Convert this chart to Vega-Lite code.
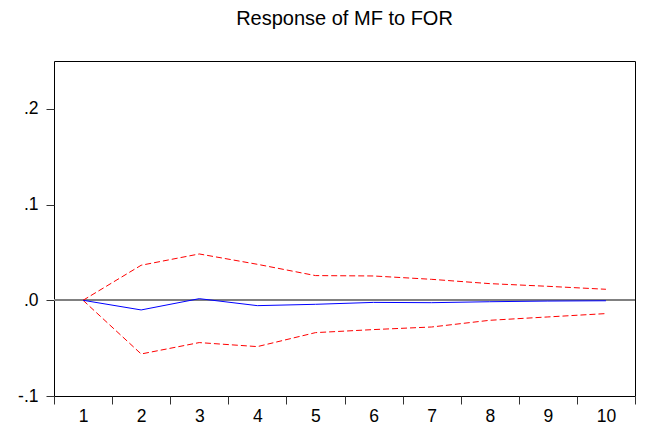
{
  "$schema": "https://vega.github.io/schema/vega-lite/v6.json",
  "width": 581,
  "height": 335,
  "autosize": {"type": "none"},
  "padding": {"left": 54, "top": 61, "right": 15, "bottom": 33},
  "background": "white",
  "title": {
    "text": "Response of MF to FOR",
    "font": "Liberation Sans",
    "fontSize": 20,
    "fontWeight": "normal",
    "color": "black",
    "anchor": "middle",
    "baseline": "alphabetic",
    "offset": 16
  },
  "config": {
    "view": {"stroke": "black", "strokeWidth": 1},
    "axis": {
      "labelFont": "Liberation Sans",
      "labelFontSize": 17.5,
      "labelColor": "black",
      "domainColor": "black",
      "tickColor": "#333333",
      "tickSize": 8,
      "grid": false,
      "title": null
    }
  },
  "data": {
    "values": [
      {"period": 1, "resp": 0.0, "lo": 0.0, "hi": 0.0},
      {"period": 2, "resp": -0.0101, "lo": -0.0561, "hi": 0.0366},
      {"period": 3, "resp": 0.0017, "lo": -0.0442, "hi": 0.0484},
      {"period": 4, "resp": -0.0056, "lo": -0.0484, "hi": 0.0376},
      {"period": 5, "resp": -0.0042, "lo": -0.0338, "hi": 0.0258},
      {"period": 6, "resp": -0.0022, "lo": -0.0306, "hi": 0.0254},
      {"period": 7, "resp": -0.0025, "lo": -0.0279, "hi": 0.0219},
      {"period": 8, "resp": -0.0015, "lo": -0.0209, "hi": 0.0174},
      {"period": 9, "resp": -0.0008, "lo": -0.0174, "hi": 0.0146},
      {"period": 10, "resp": -0.0005, "lo": -0.0139, "hi": 0.0115}
    ]
  },
  "layer": [
    {
      "mark": {"type": "rule", "color": "#808080", "strokeWidth": 1.5},
      "encoding": {"y": {"datum": 0, "type": "quantitative"}}
    },
    {
      "mark": {"type": "line", "color": "#ff0000", "strokeWidth": 1, "strokeDash": [6, 3]},
      "encoding": {
        "x": {"field": "period", "type": "ordinal", "bandPosition": 0.5,
          "scale": {"type": "band", "paddingInner": 0, "paddingOuter": 0},
          "axis": {"labelAngle": 0, "tickBand": "extent", "labelPadding": 3, "domain": false}},
        "y": {"field": "hi", "type": "quantitative",
          "scale": {"domain": [-0.1, 0.25], "nice": false, "zero": false},
          "axis": {"values": [-0.1, 0, 0.1, 0.2], "labelExpr": "(datum.value < 0 ? '-' : '') + replace(format(abs(datum.value),'.1f'),'0.','.')", "labelPadding": 8, "domain": false}}
      }
    },
    {
      "mark": {"type": "line", "color": "#ff0000", "strokeWidth": 1, "strokeDash": [6, 3]},
      "encoding": {
        "x": {"field": "period", "type": "ordinal", "bandPosition": 0.5},
        "y": {"field": "lo", "type": "quantitative"}
      }
    },
    {
      "mark": {"type": "line", "color": "#0000ff", "strokeWidth": 1},
      "encoding": {
        "x": {"field": "period", "type": "ordinal", "bandPosition": 0.5},
        "y": {"field": "resp", "type": "quantitative"}
      }
    }
  ]
}
